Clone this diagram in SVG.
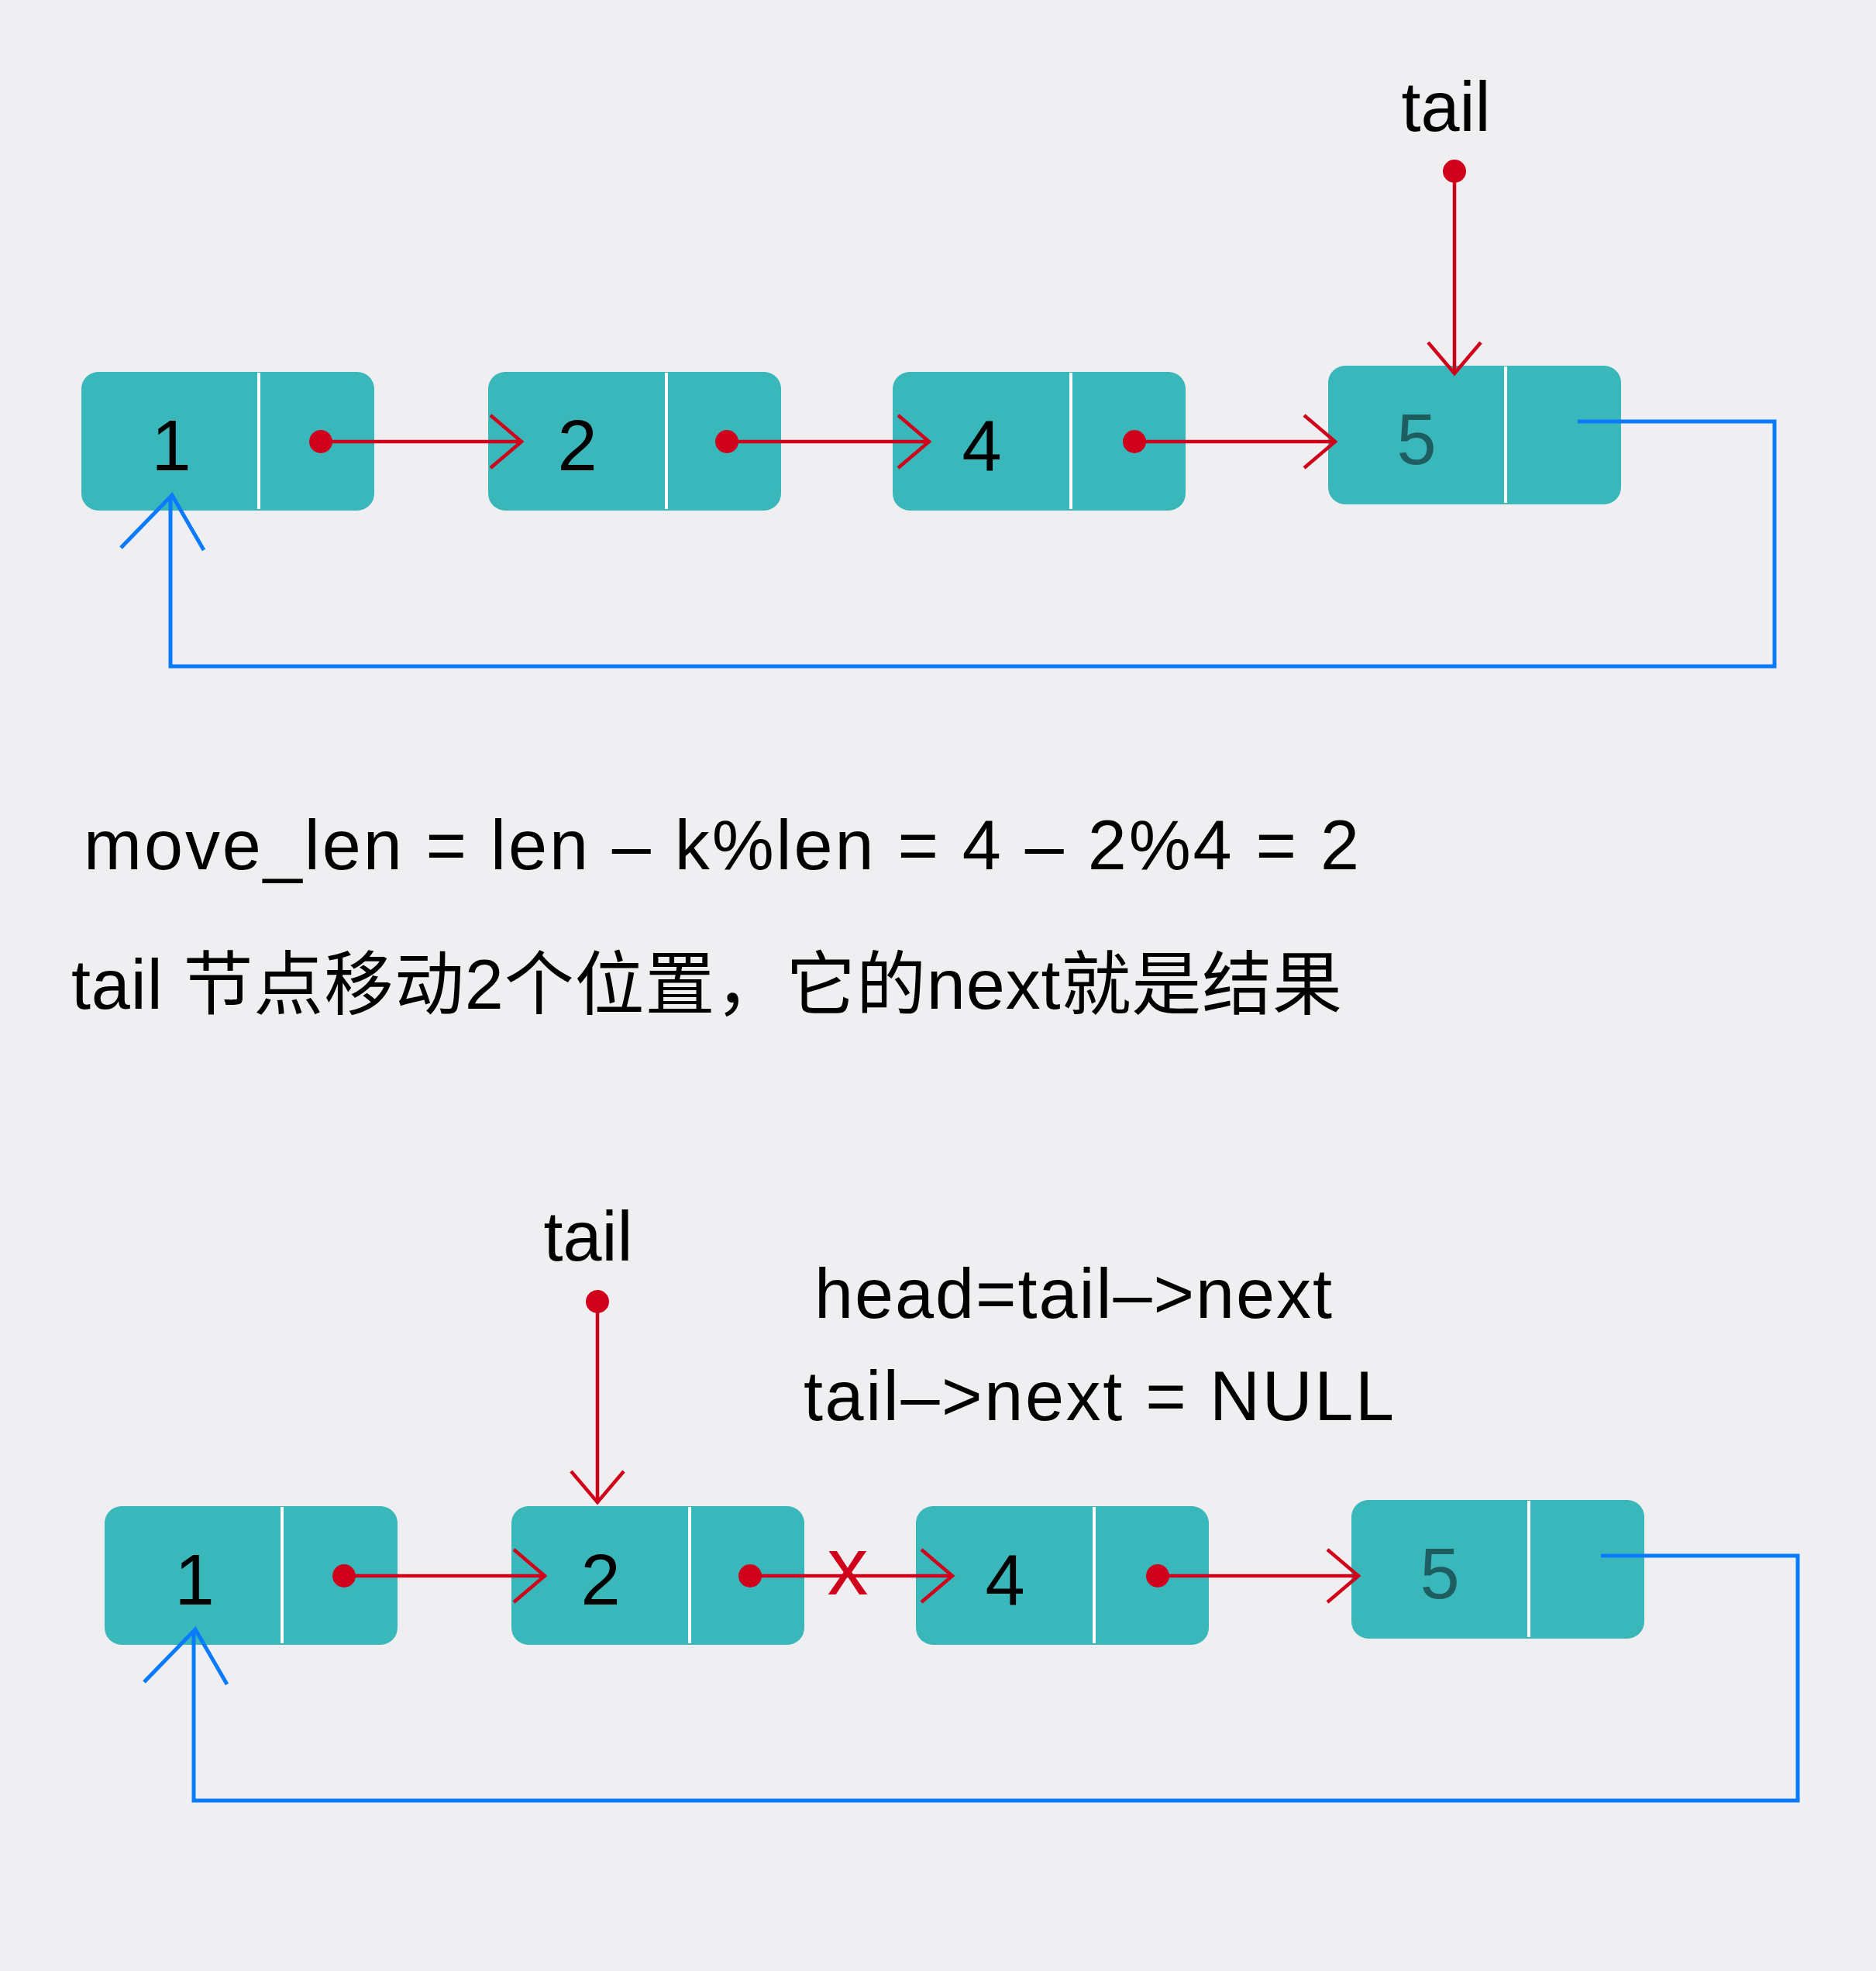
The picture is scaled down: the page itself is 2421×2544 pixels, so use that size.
<svg xmlns="http://www.w3.org/2000/svg" width="2421" height="2544" viewBox="0 0 2421 2544">
<style>
.box{fill:#3AB7BB}
.div{stroke:#FFFFFF;stroke-width:4}
.num{font-family:"Liberation Sans",Arial,sans-serif;font-size:92px;fill:#000;text-anchor:middle}
.num5{fill:#1F5E60}
.lbl{font-family:"Liberation Sans","Noto Sans CJK SC",sans-serif;font-size:90px;fill:#000}
.red{stroke:#D0021B;stroke-width:4.5;fill:none}
.dot{fill:#D0021B}
.blue{stroke:#0A7AFF;stroke-width:5;fill:none}
</style>
<defs>
<marker id="chev" markerUnits="userSpaceOnUse" viewBox="-46 -40 52 80" refX="0" refY="0" markerWidth="52" markerHeight="80" orient="auto">
<path d="M-40,-34 L0,0 L-40,34" stroke="#D0021B" stroke-width="4.5" fill="none"/>
</marker>
</defs>
<rect x="0" y="0" width="2421" height="2544" fill="#EFEFF1"/>

<g id="top-node-1"><rect class="box" x="105" y="480" width="378" height="179" rx="22"/><line class="div" x1="334" y1="481" x2="334" y2="657"/><text class="num" x="221" y="607">1</text></g>
<g id="top-node-2"><rect class="box" x="630" y="480" width="378" height="179" rx="22"/><line class="div" x1="860" y1="481" x2="860" y2="657"/><text class="num" x="745" y="607">2</text></g>
<g id="top-node-4"><rect class="box" x="1152" y="480" width="378" height="179" rx="22"/><line class="div" x1="1382" y1="481" x2="1382" y2="657"/><text class="num" x="1267" y="607">4</text></g>
<g id="top-node-5"><rect class="box" x="1714" y="472" width="378" height="179" rx="22"/><line class="div" x1="1943" y1="473" x2="1943" y2="649"/><text class="num num5" x="1828" y="599">5</text></g>
<g id="top-tail-label"><text class="lbl" x="1866" y="169" text-anchor="middle">tail</text></g>

<g id="formula"><text class="lbl" x="108" y="1122" textLength="1646" lengthAdjust="spacing">move_len = len – k%len = 4 – 2%4 = 2</text></g>
<g id="explain"><text class="lbl" x="92" y="1302" textLength="1640" lengthAdjust="spacing">tail 节点移动2个位置，它的next就是结果</text></g>

<g id="bottom-tail-label"><text class="lbl" x="759" y="1627" text-anchor="middle">tail</text></g>
<g id="code-1"><text class="lbl" x="1051" y="1701" textLength="668" lengthAdjust="spacing">head=tail–&gt;next</text></g>
<g id="code-2"><text class="lbl" x="1037" y="1833" textLength="762" lengthAdjust="spacing">tail–&gt;next = NULL</text></g>

<g id="bottom-node-1"><rect class="box" x="135" y="1944" width="378" height="179" rx="22"/><line class="div" x1="364" y1="1945" x2="364" y2="2121"/><text class="num" x="251" y="2071">1</text></g>
<g id="bottom-node-2"><rect class="box" x="660" y="1944" width="378" height="179" rx="22"/><line class="div" x1="890" y1="1945" x2="890" y2="2121"/><text class="num" x="775" y="2071">2</text></g>
<g id="bottom-node-4"><rect class="box" x="1182" y="1944" width="378" height="179" rx="22"/><line class="div" x1="1412" y1="1945" x2="1412" y2="2121"/><text class="num" x="1297" y="2071">4</text></g>
<g id="bottom-node-5"><rect class="box" x="1744" y="1936" width="378" height="179" rx="22"/><line class="div" x1="1973" y1="1937" x2="1973" y2="2113"/><text class="num num5" x="1858" y="2063">5</text></g>

<g id="connectors">
<circle class="dot" cx="414" cy="570" r="15"/><path class="red" d="M414 570 H673" marker-end="url(#chev)"/>
<circle class="dot" cx="938" cy="570" r="15"/><path class="red" d="M938 570 H1199" marker-end="url(#chev)"/>
<circle class="dot" cx="1464" cy="570" r="15"/><path class="red" d="M1464 570 H1723" marker-end="url(#chev)"/>
<circle class="dot" cx="1877" cy="221" r="15"/><path class="red" d="M1877 221 V482" marker-end="url(#chev)"/>
<path class="blue" d="M2036 544 H2290 V860 H220 V641"/>
<polyline class="blue" points="156,707 222,639 263,710"/>

<circle class="dot" cx="444" cy="2034" r="15"/><path class="red" d="M444 2034 H703" marker-end="url(#chev)"/>
<circle class="dot" cx="968" cy="2034" r="15"/><path class="red" d="M968 2034 H1229" marker-end="url(#chev)"/>
<text x="1094" y="2058" font-family="Liberation Sans,Arial,sans-serif" font-size="106" fill="#D0021B" text-anchor="middle">x</text>
<circle class="dot" cx="1494" cy="2034" r="15"/><path class="red" d="M1494 2034 H1753" marker-end="url(#chev)"/>
<circle class="dot" cx="771" cy="1680" r="15"/><path class="red" d="M771 1680 V1939" marker-end="url(#chev)"/>
<path class="blue" d="M2066 2008 H2320 V2324 H250 V2105"/>
<polyline class="blue" points="186,2171 252,2103 293,2174"/>
</g>
</svg>
